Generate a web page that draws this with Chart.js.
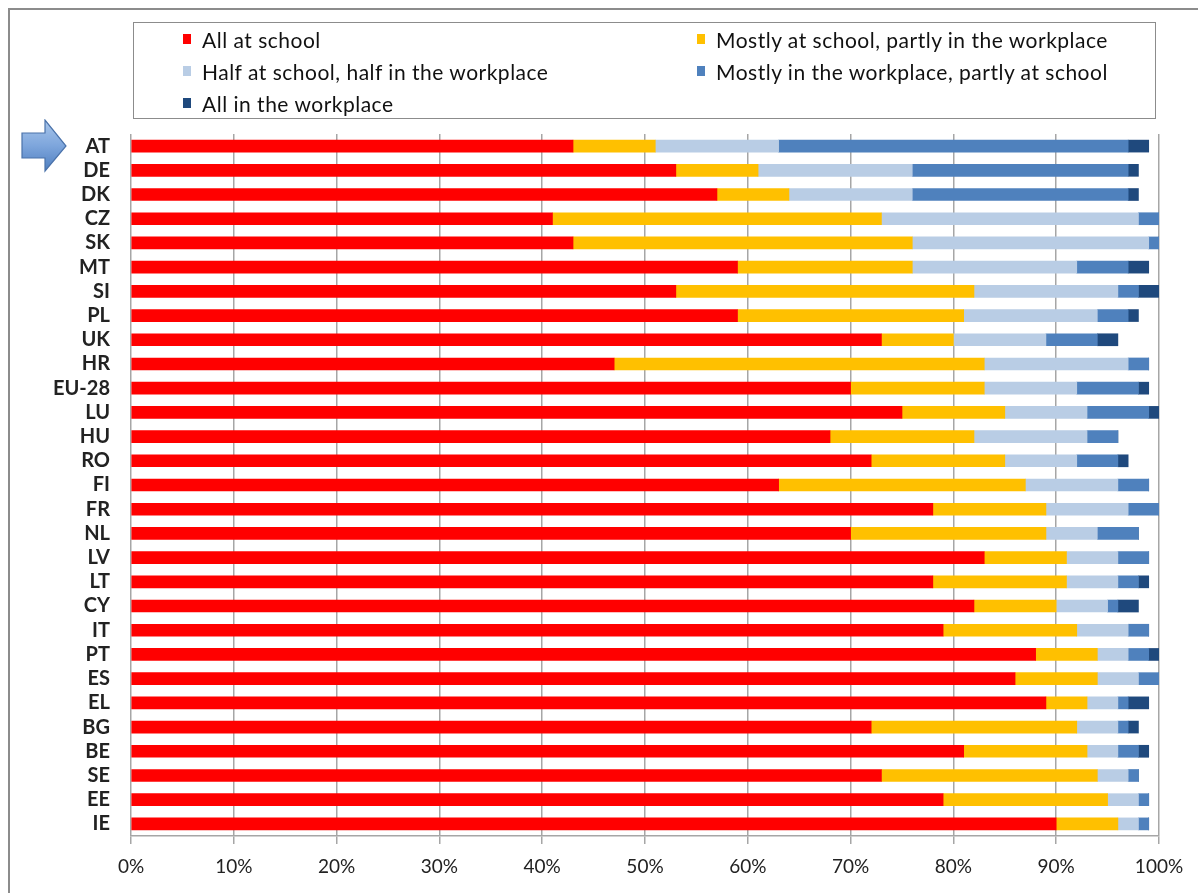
<!DOCTYPE html>
<html>
<head>
<meta charset="utf-8">
<script src="https://cdn.jsdelivr.net/npm/chart.js@4"></script>
<style>
  body { margin: 0; background: #fff; font-family: Lato, "Noto Sans", sans-serif; }
  #wrap { position: relative; width: 1198px; height: 893px; overflow: hidden; }
  #frame { position: absolute; left: 8px; top: 8px; width: 1200px; height: 900px; border-left: 2px solid #8c8c8c; border-top: 2px solid #8c8c8c; }
  #legend { position: absolute; left: 133px; top: 22px; width: 1023px; height: 97px; border: 1px solid #8c8c8c; box-sizing: border-box;
            display: grid; grid-template-columns: 514px auto; grid-auto-rows: 32px; padding: 0 0 0 49px; }
  .item { display: flex; align-items: center; font-size: 21px; letter-spacing: 0.5px; color: #111; white-space: nowrap; }
  .sw { width: 8px; height: 10px; margin-right: 11px; }
  #arrow { position: absolute; left: 21px; top: 119px; }
  canvas { position: absolute; left: 0; top: 0; }
</style>
</head>
<body>
<div id="wrap">
  <div id="frame"></div>
  <canvas id="chart" width="1198" height="893"></canvas>
  <div id="legend"></div>
  <svg id="arrow" width="48" height="54" viewBox="0 0 48 54">
    <defs>
      <linearGradient id="g" x1="0" y1="0" x2="0" y2="1">
        <stop offset="0" stop-color="#a9c6ea"/>
        <stop offset="0.5" stop-color="#7ea6dc"/>
        <stop offset="1" stop-color="#4f7fc0"/>
      </linearGradient>
    </defs>
    <polygon points="1,14 24,14 24,1 45,27 24,52 24,39 1,39" fill="url(#g)" stroke="#4a72aa" stroke-width="1.2"/>
  </svg>
</div>
<script>
// Categories (top to bottom)
const countries = ['AT', 'DE', 'DK', 'CZ', 'SK', 'MT', 'SI', 'PL', 'UK', 'HR', 'EU-28', 'LU', 'HU', 'RO', 'FI',
  'FR', 'NL', 'LV', 'LT', 'CY', 'IT', 'PT', 'ES', 'EL', 'BG', 'BE', 'SE', 'EE', 'IE'];

// Shares in %
const allAtSchool   = [43, 53, 57, 41, 43, 59, 53, 59, 73, 47, 70, 75, 68, 72, 63, 78, 70, 83, 78, 82, 79, 88, 86, 89, 72, 81, 73, 79, 90];
const mostlySchool  = [8, 8, 7, 32, 33, 17, 29, 22, 7, 36, 13, 10, 14, 13, 24, 11, 19, 8, 13, 8, 13, 6, 8, 4, 20, 12, 21, 16, 6];
const halfHalf      = [12, 15, 12, 25, 23, 16, 14, 13, 9, 14, 9, 8, 11, 7, 9, 8, 5, 5, 5, 5, 5, 3, 4, 3, 4, 3, 3, 3, 2];
const mostlyWork    = [34, 21, 21, 2, 1, 5, 2, 3, 5, 2, 6, 6, 3, 4, 3, 3, 4, 3, 2, 1, 2, 2, 2, 1, 1, 2, 1, 1, 1];
const allInWork     = [2, 1, 1, 0, 0, 2, 2, 1, 2, 0, 1, 1, 0, 1, 0, 0, 0, 0, 1, 2, 0, 1, 0, 2, 1, 1, 0, 0, 0];

const seriesLabels = ['All at school', 'Mostly at school, partly in the workplace', 'Half at school, half in the workplace',
  'Mostly in the workplace, partly at school', 'All in the workplace'];
const xTicks = [0, 10, 20, 30, 40, 50, 60, 70, 80, 90, 100];

const colors = ['#ff0000', '#ffc000', '#b9cde5', '#4f81bd', '#1f497d'];
const series = [allAtSchool, mostlySchool, halfHalf, mostlyWork, allInWork];

const datasets = series.map((d, i) => ({
  label: seriesLabels[i],
  data: d,
  backgroundColor: colors[i],
  borderWidth: 0,
  barThickness: 12
}));

// HTML legend in two columns
const legendEl = document.getElementById('legend');
seriesLabels.forEach((lab, i) => {
  const it = document.createElement('div');
  it.className = 'item';
  it.innerHTML = '<span class="sw" style="background:' + colors[i] + '"></span>' + lab;
  legendEl.appendChild(it);
});

new Chart(document.getElementById('chart'), {
  type: 'bar',
  data: { labels: countries, datasets: datasets },
  options: {
    indexAxis: 'y',
    responsive: false,
    animation: false,
    layout: { padding: { left: 0, right: 39, top: 134, bottom: 0 } },
    plugins: {
      legend: { display: false },
      tooltip: { enabled: false }
    },
    scales: {
      x: {
        stacked: true,
        min: 0,
        max: 100,
        afterBuildTicks: axis => { axis.ticks = xTicks.map(v => ({ value: v })); },
        afterFit: scale => { scale.height = 57; },
        grid: { color: '#a6a6a6', lineWidth: 1.5, tickLength: 8 },
        border: { color: '#a6a6a6', width: 1.5 },
        ticks: {
          autoSkip: false,
          maxRotation: 0,
          padding: 11,
          color: '#222',
          font: { family: 'Lato', size: 19 },
          callback: v => v + '%'
        }
      },
      y: {
        stacked: true,
        afterFit: scale => { scale.width = 131; },
        grid: { display: false, drawTicks: false },
        border: { display: false },
        ticks: {
          autoSkip: false,
          padding: 21,
          color: '#222',
          font: { family: 'Lato', size: 20, weight: 'bold' }
        }
      }
    }
  }
});
</script>
</body>
</html>
